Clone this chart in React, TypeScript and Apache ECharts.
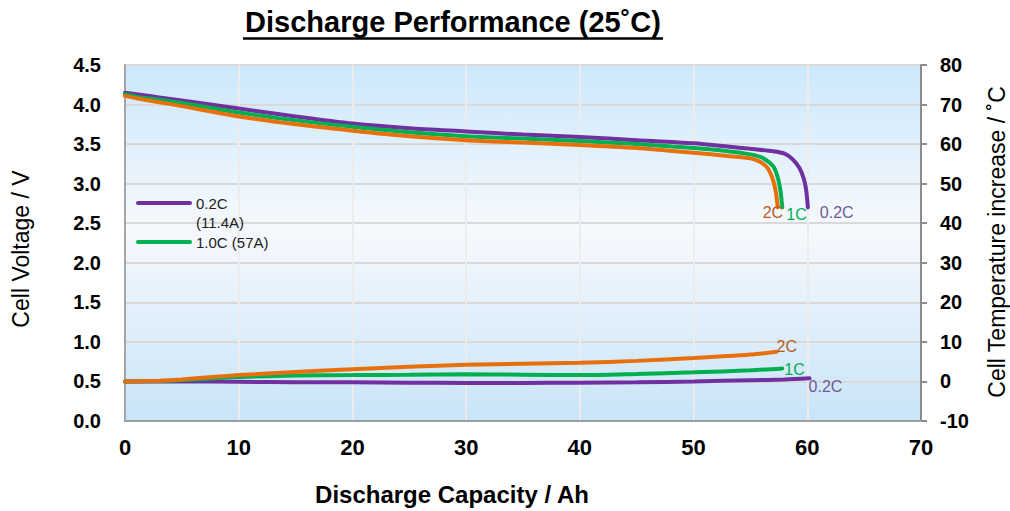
import React, { useEffect, useRef } from "react";
import * as echarts from "echarts";

// ---- Data ----
const xTicks = [0, 10, 20, 30, 40, 50, 60, 70];

// Voltage curves (capacity Ah, voltage V)
const cap02V = [0, 1, 3, 5, 10, 15, 20, 25, 30, 35, 40, 45, 50, 53, 55, 57, 58, 58.7, 59.3, 59.7, 59.9, 60.05];
const volt02 = [4.15, 4.13, 4.09, 4.05, 3.95, 3.85, 3.76, 3.7, 3.66, 3.62, 3.59, 3.55, 3.51, 3.47, 3.44, 3.41, 3.38, 3.31, 3.2, 3.06, 2.92, 2.7];
const cap1V = [0, 1, 3, 5, 10, 15, 20, 25, 30, 35, 40, 45, 50, 53, 55, 56, 57, 57.4, 57.65, 57.8];
const volt1 = [4.13, 4.1, 4.06, 4.02, 3.9, 3.8, 3.72, 3.65, 3.6, 3.57, 3.54, 3.5, 3.45, 3.41, 3.37, 3.33, 3.22, 3.08, 2.9, 2.7];
const cap2V = [0, 1, 3, 5, 10, 15, 20, 25, 30, 35, 40, 45, 50, 53, 55, 55.8, 56.5, 57.0, 57.25, 57.4];
const volt2 = [4.11, 4.08, 4.03, 3.98, 3.85, 3.75, 3.67, 3.6, 3.55, 3.52, 3.49, 3.45, 3.39, 3.35, 3.32, 3.28, 3.2, 3.04, 2.88, 2.7];

// Temperature increase curves (capacity Ah, °C)
const cap02T = [0, 5, 10, 15, 20, 25, 30, 35, 40, 45, 50, 55, 58, 60.2];
const temp02 = [0, 0, -0.1, -0.2, -0.2, -0.3, -0.4, -0.4, -0.3, -0.2, 0, 0.3, 0.5, 0.8];
const cap1T = [0, 3, 5, 8, 10, 15, 20, 25, 30, 35, 40, 45, 50, 55, 57.8];
const temp1 = [0, 0.1, 0.3, 0.8, 1.1, 1.5, 1.6, 1.7, 1.8, 1.7, 1.6, 1.9, 2.3, 2.8, 3.3];
const cap2T = [0, 3, 5, 8, 10, 15, 20, 25, 30, 35, 40, 45, 50, 55, 57.3];
const temp2 = [0, 0.2, 0.5, 1.2, 1.6, 2.4, 3.1, 3.7, 4.2, 4.5, 4.7, 5.2, 5.9, 6.8, 7.5];

const legendNames = ["0.2C", "(11.4A)", "1.0C (57A)"];
const endNames = ["0.2C", "1C", "2C"];

const PURPLE = "#7030a0";
const GREEN = "#00b050";
const ORANGE = "#e8700c";
const LBL_PURPLE = "#6e5a98";
const LBL_GREEN = "#00b050";
const LBL_ORANGE = "#b85c1e";
const FONT = "Arial, 'Liberation Sans', sans-serif";

const zip = (xs: number[], ys: number[]) => xs.map((x, i) => [x, ys[i]]);

export default function App() {
  const ref = useRef<HTMLDivElement>(null);

  useEffect(() => {
    document.body.style.margin = "0";
    if (!ref.current) return;
    const chart = echarts.init(ref.current, undefined, { renderer: "svg" });

    const line = (name: string, xs: number[], ys: number[], color: string, yAxisIndex: number, z: number) => ({
      name,
      type: "line",
      yAxisIndex,
      data: zip(xs, ys),
      showSymbol: false,
      symbol: "none",
      smooth: 0.25,
      z,
      lineStyle: { color, width: 4, cap: "round" },
      itemStyle: { color },
    });

    const option: any = {
      animation: false,
      grid: {
        left: 125,
        right: 89,
        top: 65,
        bottom: 90,
        show: true,
        borderWidth: 0,
        backgroundColor: new echarts.graphic.LinearGradient(0, 0, 0, 1, [
          { offset: 0, color: "#cce8fb" },
          { offset: 0.46, color: "#f6f9fd" },
          { offset: 1, color: "#c9e4f8" },
        ]),
      },
      xAxis: {
        type: "value",
        min: xTicks[0],
        max: xTicks[xTicks.length - 1],
        interval: 10,
        axisLine: { show: true, lineStyle: { color: "#a0a0a0", width: 2 } },
        axisTick: { show: false },
        axisLabel: { color: "#000", fontWeight: "bold", fontSize: 22, fontFamily: FONT, margin: 15 },
        splitLine: { show: true, lineStyle: { color: "#ececec", width: 2 } },
      },
      yAxis: [
        {
          type: "value",
          min: 0,
          max: 4.5,
          interval: 0.5,
          axisLine: { show: true, lineStyle: { color: "#a6a6a6", width: 2 } },
          axisTick: { show: false },
          axisLabel: {
            color: "#000",
            fontWeight: "bold",
            fontSize: 20,
            fontFamily: FONT,
            margin: 24,
            formatter: (v: number) => v.toFixed(1),
          },
          splitLine: { show: true, lineStyle: { color: "#d9d9d9", width: 2 } },
        },
        {
          type: "value",
          position: "right",
          min: -10,
          max: 80,
          interval: 10,
          axisLine: { show: true, lineStyle: { color: "#8c8c8c", width: 2 } },
          axisTick: { show: true, inside: false, length: 6, lineStyle: { color: "#8c8c8c", width: 2 } },
          axisLabel: { color: "#000", fontWeight: "bold", fontSize: 20, fontFamily: FONT, margin: 19 },
          splitLine: { show: false },
        },
      ],
      series: [
        line("0.2C voltage", cap02V, volt02, PURPLE, 0, 3),
        line("1C voltage", cap1V, volt1, GREEN, 0, 4),
        line("2C voltage", cap2V, volt2, ORANGE, 0, 5),
        line("0.2C temperature", cap02T, temp02, PURPLE, 1, 3),
        line("1C temperature", cap1T, temp1, GREEN, 1, 4),
        line("2C temperature", cap2T, temp2, ORANGE, 1, 5),
      ],
      graphic: [
        // Title with underline
        {
          type: "text",
          x: 453,
          y: 22,
          style: {
            text: "Discharge Performance (25˚C)",
            align: "center",
            verticalAlign: "middle",
            font: `bold 29px ${FONT}`,
            fill: "#000",
          },
        },
        { type: "line", shape: { x1: 243, y1: 38.5, x2: 663, y2: 38.5 }, style: { stroke: "#000", lineWidth: 2.5 } },
        // Axis names
        {
          type: "text",
          x: 21,
          y: 249,
          rotation: Math.PI / 2,
          style: { text: "Cell Voltage / V", align: "center", verticalAlign: "middle", font: `23px ${FONT}`, fill: "#000" },
        },
        {
          type: "text",
          x: 997,
          y: 242,
          rotation: Math.PI / 2,
          style: {
            text: "Cell Temperature increase / ˚C",
            align: "center",
            verticalAlign: "middle",
            font: `23px ${FONT}`,
            fill: "#000",
          },
        },
        {
          type: "text",
          x: 452,
          y: 494,
          style: {
            text: "Discharge Capacity / Ah",
            align: "center",
            verticalAlign: "middle",
            font: `bold 24px ${FONT}`,
            fill: "#000",
          },
        },
        // Legend
        { type: "line", z: 10, shape: { x1: 138, y1: 203, x2: 190, y2: 203 }, style: { stroke: PURPLE, lineWidth: 4, lineCap: "round" } },
        { type: "text", z: 10, x: 196, y: 203, style: { text: legendNames[0], verticalAlign: "middle", font: `15px ${FONT}`, fill: "#222" } },
        { type: "text", z: 10, x: 196, y: 222, style: { text: legendNames[1], verticalAlign: "middle", font: `15px ${FONT}`, fill: "#222" } },
        { type: "line", z: 10, shape: { x1: 138, y1: 242, x2: 190, y2: 242 }, style: { stroke: GREEN, lineWidth: 4, lineCap: "round" } },
        { type: "text", z: 10, x: 196, y: 242, style: { text: legendNames[2], verticalAlign: "middle", font: `15px ${FONT}`, fill: "#222" } },
      ],
    };

    chart.setOption(option);

    // End labels, positioned from the last data point of each curve
    const ends: { xs: number[]; ys: number[]; axis: number; text: string; color: string; dx: number; dy: number }[] = [
      { xs: cap02V, ys: volt02, axis: 0, text: endNames[0], color: LBL_PURPLE, dx: 12, dy: 5 },
      { xs: cap1V, ys: volt1, axis: 0, text: endNames[1], color: LBL_GREEN, dx: 4, dy: 7 },
      { xs: cap2V, ys: volt2, axis: 0, text: endNames[2], color: LBL_ORANGE, dx: -15, dy: 5 },
      { xs: cap02T, ys: temp02, axis: 1, text: endNames[0], color: LBL_PURPLE, dx: -1, dy: 8 },
      { xs: cap1T, ys: temp1, axis: 1, text: endNames[1], color: LBL_GREEN, dx: 2, dy: 1 },
      { xs: cap2T, ys: temp2, axis: 1, text: endNames[2], color: LBL_ORANGE, dx: 0, dy: -5 },
    ];
    const labelGraphics = ends.map((e) => {
      const n = e.xs.length - 1;
      const p = chart.convertToPixel({ xAxisIndex: 0, yAxisIndex: e.axis } as any, [e.xs[n], e.ys[n]]) as number[];
      return {
        type: "text",
        z: 10,
        x: p[0] + e.dx,
        y: p[1] + e.dy,
        style: { text: e.text, verticalAlign: "middle", font: `16px ${FONT}`, fill: e.color },
      };
    });
    chart.setOption({ graphic: [...option.graphic, ...labelGraphics] });

    return () => chart.dispose();
  }, []);

  return <div ref={ref} style={{ width: 1010, height: 511 }} />;
}
